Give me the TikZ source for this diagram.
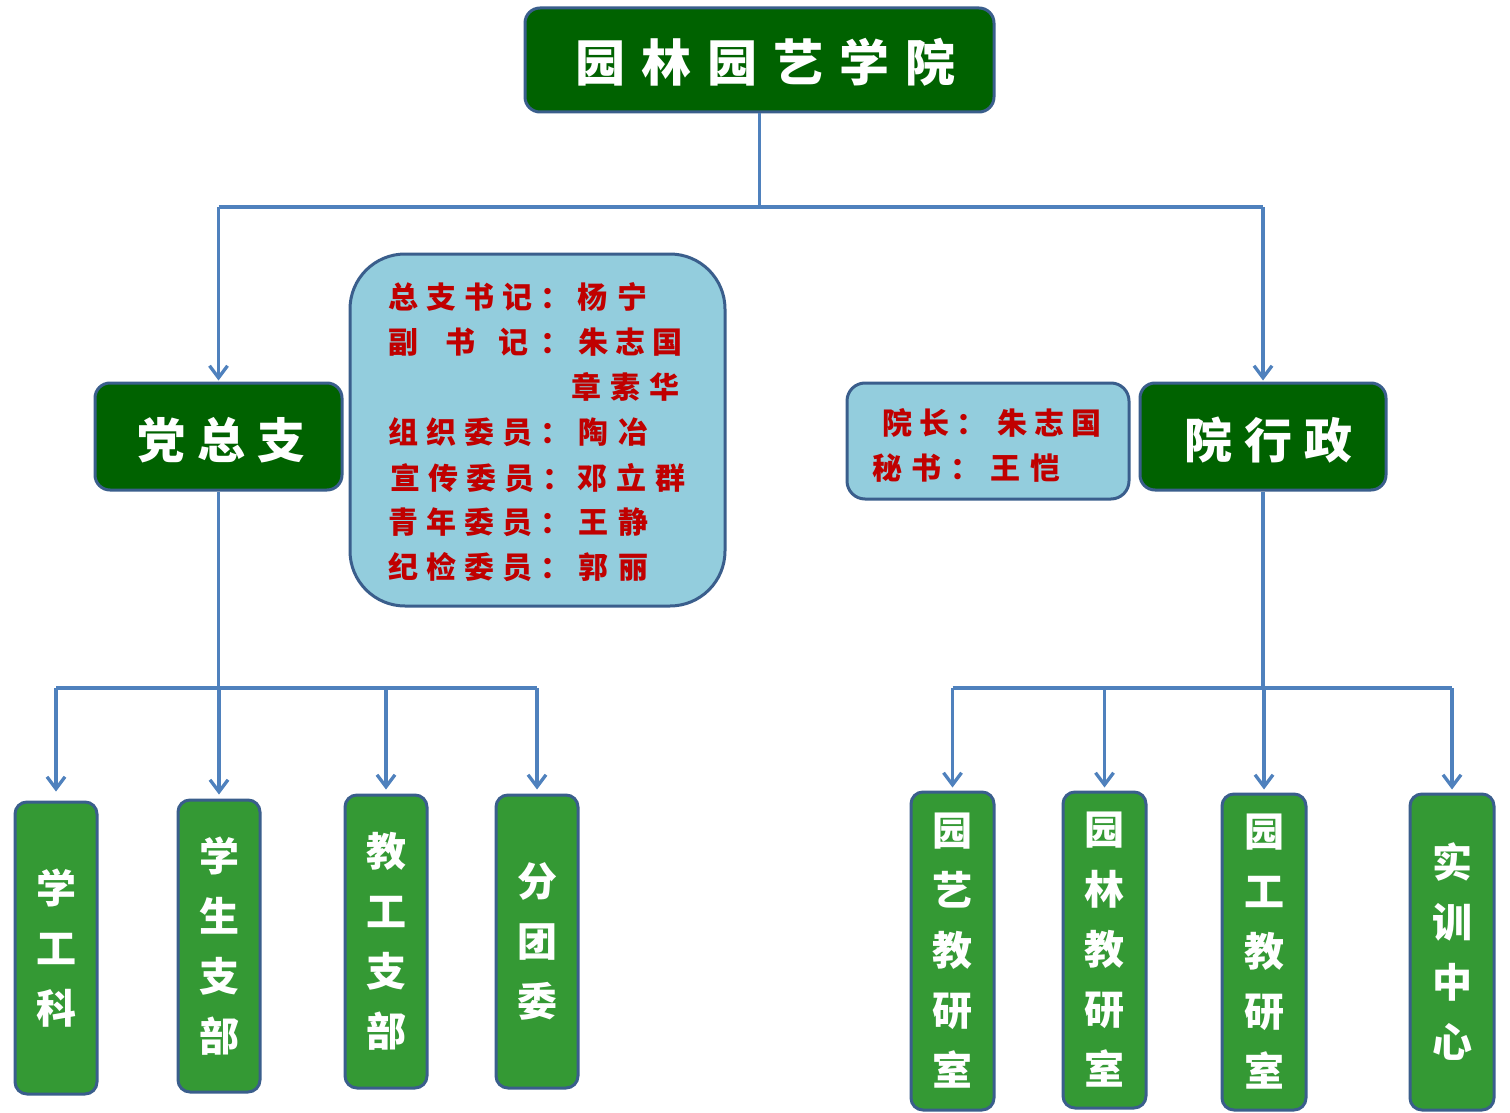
\documentclass[tikz,border=0pt]{standalone}
\usepackage{fontspec}
\newfontfamily\cjk{Noto Sans CJK SC}
\usetikzlibrary{arrows.meta}
\definecolor{dkgreen}{RGB}{0,98,0}
\definecolor{mgreen}{RGB}{52,153,52}
\definecolor{bordc}{RGB}{58,94,140}
\definecolor{lblue}{RGB}{147,205,221}
\definecolor{lineb}{RGB}{79,129,189}
\definecolor{dred}{RGB}{192,0,0}
\makeatletter
\newcommand\spacedtext[2]{%
  \def\st@gap{#1}\let\st@sep\relax
  \@tfor\st@c:=#2\do{\st@sep\st@c\def\st@sep{\hspace{\st@gap}}}}
\makeatother
\tikzset{
  rbox/.style={draw=bordc, line width=3pt, rounded corners=#1, inner sep=0pt},
  titlebox/.style={rbox=15pt, fill=dkgreen, text=white,
    font=\cjk\bfseries\fontsize{48}{48}\selectfont},
  vbox/.style={rbox=12pt, fill=mgreen, text=white, align=center,
    minimum width=82pt, font=\cjk\bfseries\fontsize{40}{60}\selectfont},
  infobox/.style={rbox=#1, fill=lblue},
  redtxt/.style={text=dred, anchor=west, inner sep=0pt,
    font=\cjk\bfseries\fontsize{30}{30}\selectfont},
  conn/.style={draw=lineb, line width=3.3pt},
  arr/.style={conn, -{Straight Barb[length=12pt,width=18pt,line width=3.3pt]}}
}
\begin{document}
\begin{tikzpicture}[x=1pt,y=-1pt]
\useasboundingbox[fill=white] (0,0) rectangle (1510,1113);

% top
\node[titlebox, minimum width=469pt, minimum height=104pt] (top) at (759.5,60) {};
\node[text=white, font=\cjk\bfseries\fontsize{50}{50}\selectfont, inner sep=0pt] (toptxt) at (765,62) {\spacedtext{16pt}{园林园艺学院}};

% second level
\node[titlebox, minimum width=247pt, minimum height=107pt] (dang) at (218.5,436.5) {};
\node[text=white, font=\cjk\bfseries\fontsize{48}{48}\selectfont, inner sep=0pt] (dangtxt) at (221,440) {\spacedtext{12pt}{党总支}};
\node[titlebox, minimum width=246pt, minimum height=107pt] (xing) at (1263,436.5) {};
\node[text=white, font=\cjk\bfseries\fontsize{48}{48}\selectfont, inner sep=0pt] (xingtxt) at (1268,440) {\spacedtext{12pt}{院行政}};

% info boxes
\node[infobox=55pt, minimum width=375pt, minimum height=352pt] (info1) at (537.5,430) {};
\node[redtxt] (l1a) at (388,297) {\spacedtext{8pt}{总支书记：}};
\node[redtxt] (l1b) at (577,297) {\spacedtext{10pt}{杨宁}};
\node[redtxt] (l2a) at (388,342) {副\hspace{27pt}书\hspace{23pt}记\hspace{12pt}：};
\node[redtxt] (l2b) at (578,342) {\spacedtext{7pt}{朱志国}};
\node[redtxt] (l3b) at (571,387) {\spacedtext{9pt}{章素华}};
\node[redtxt] (l4a) at (388,432) {\spacedtext{8pt}{组织委员：}};
\node[redtxt] (l4b) at (578,432) {\spacedtext{10pt}{陶冶}};
\node[redtxt] (l5a) at (390,478) {\spacedtext{8pt}{宣传委员：}};
\node[redtxt] (l5b) at (577,478) {\spacedtext{9pt}{邓立群}};
\node[redtxt] (l6a) at (388,522) {\spacedtext{8pt}{青年委员：}};
\node[redtxt] (l6b) at (578,522) {\spacedtext{10pt}{王静}};
\node[redtxt] (l7a) at (388,567) {\spacedtext{8pt}{纪检委员：}};
\node[redtxt] (l7b) at (578,567) {\spacedtext{10pt}{郭丽}};

\node[infobox=18pt, minimum width=282pt, minimum height=116pt] (info2) at (988,441) {};
\node[redtxt] (m1a) at (882,423) {\spacedtext{7pt}{院长：}};
\node[redtxt] (m1b) at (997,423) {\spacedtext{7pt}{朱志国}};
\node[redtxt] (m2a) at (872,468) {\spacedtext{9pt}{秘书：}};
\node[redtxt] (m2b) at (990,468) {\spacedtext{10pt}{王恺}};

% bottom boxes left
\node[vbox, minimum height=292pt] (b1) at (56,948) {学\\工\\科};
\node[vbox, minimum height=292pt] (b2) at (219,946) {学\\生\\支\\部};
\node[vbox, minimum height=293pt] (b3) at (386,941.5) {教\\工\\支\\部};
\node[vbox, minimum height=293pt] (b4) at (537,941.5) {分\\团\\委};

% bottom boxes right
\node[vbox, minimum width=83pt, minimum height=318pt] (r1) at (952.5,951) {园\\艺\\教\\研\\室};
\node[vbox, minimum width=83pt, minimum height=316pt] (r2) at (1104.5,950) {园\\林\\教\\研\\室};
\node[vbox, minimum width=84pt, minimum height=316pt] (r3) at (1264,952) {园\\工\\教\\研\\室};
\node[vbox, minimum width=84pt, minimum height=316pt] (r4) at (1452,952) {实\\训\\中\\心};

% connectors
\coordinate (jTop) at (top.south |- 0,207);
\coordinate (jL) at (dang.north |- 0,207);
\coordinate (jR) at (xing.north |- 0,207);
\draw[conn] (top.south) -- (jTop);
\draw[conn] (jL) -- (jR);
\draw[arr, shorten >=1pt] (jL) -- (dang.north);
\draw[arr, shorten >=1pt] (jR) -- (xing.north);

\coordinate (jD) at (dang.south |- 0,688);
\draw[conn] (dang.south) -- (jD);
\draw[conn] (b1.north |- jD) -- (b4.north |- jD);
\foreach \b/\s in {b1/9pt,b2/4pt,b3/4pt,b4/4pt}
  \draw[arr, shorten >=\s] (\b.north |- jD) -- (\b.north);

\coordinate (kD) at (xing.south |- 0,688);
\draw[conn] (xing.south) -- (kD);
\draw[conn] (r1.north |- kD) -- (r4.north |- kD);
\foreach \b in {r1,r2,r3,r4}
  \draw[arr, shorten >=3pt] (\b.north |- kD) -- (\b.north);
\end{tikzpicture}
\end{document}
